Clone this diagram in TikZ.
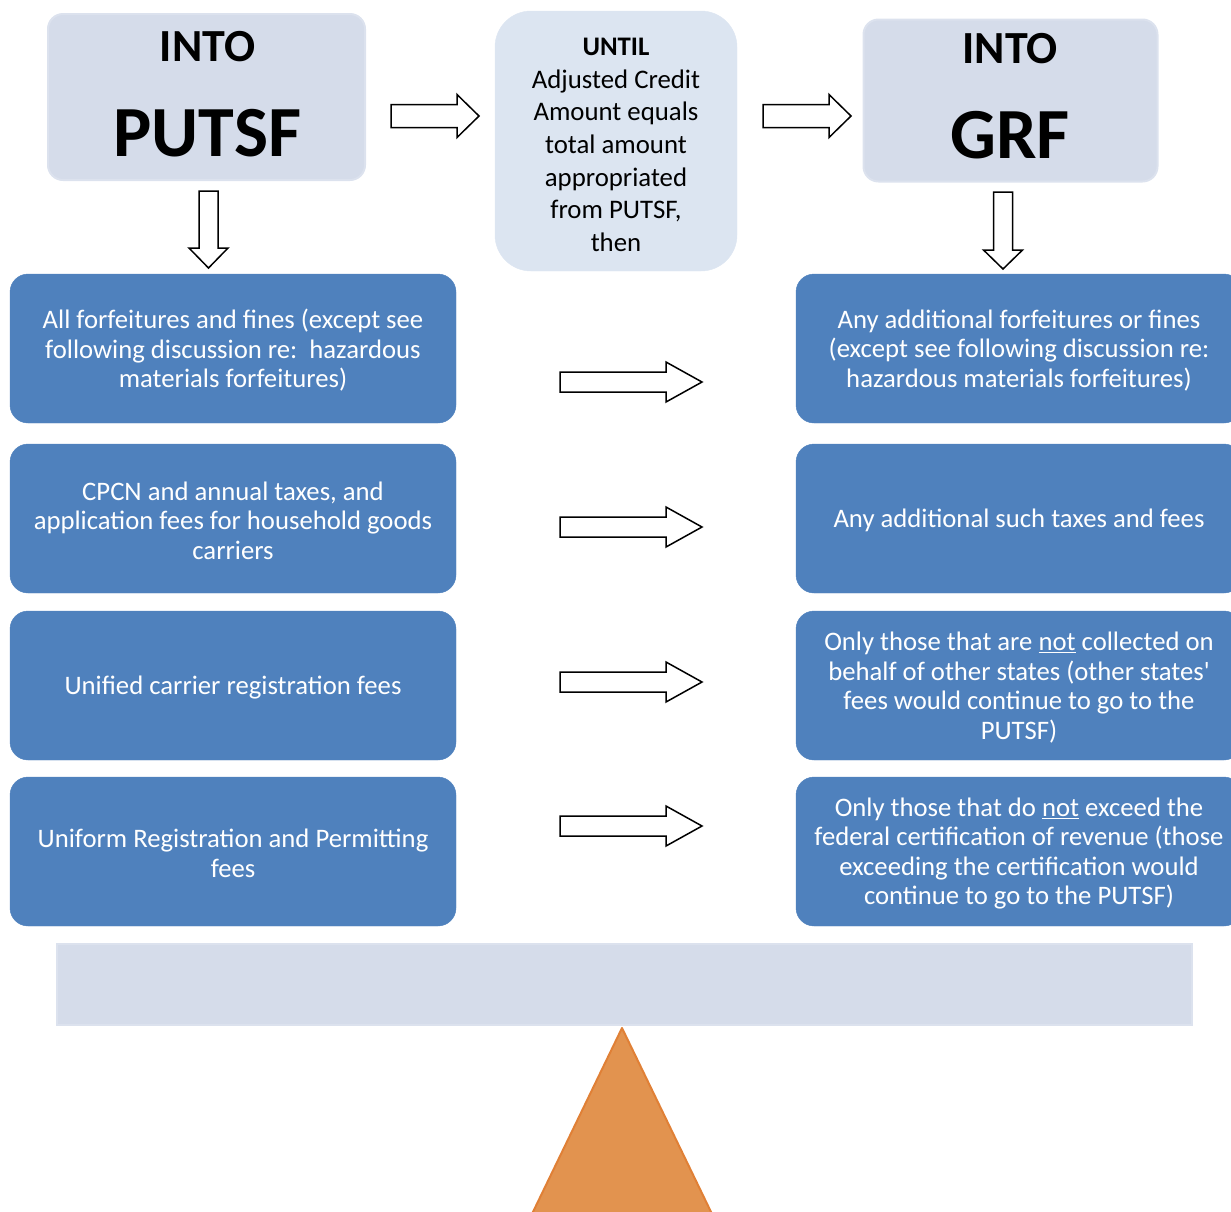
\documentclass[tikz,border=0pt]{standalone}
\usepackage{fontspec}
\setmainfont{Carlito}
\definecolor{paleblue}{HTML}{D5DCEA}
\definecolor{paleedge}{HTML}{DCE2EE}
\definecolor{untilfill}{HTML}{DCE5F1}
\definecolor{boxblue}{HTML}{4F81BD}
\definecolor{orangefill}{HTML}{E2934F}
\definecolor{orangeedge}{HTML}{E08036}
\newcommand\straightquote{{\addfontfeatures{Ligatures=TeXOff}'}}
\newcommand\hblockarrow[6]{% x0, yc, head base x, tip x, shaft half, head half
  \draw[barrow] (#1,#2-#5) -- (#3,#2-#5) -- (#3,#2-#6) -- (#4,#2) -- (#3,#2+#6) -- (#3,#2+#5) -- (#1,#2+#5) -- cycle;}
\newcommand\vblockarrow[6]{% xc, y0, head base y, tip y, shaft half, head half
  \draw[barrow] (#1-#5,#2) -- (#1-#5,#3) -- (#1-#6,#3) -- (#1,#4) -- (#1+#6,#3) -- (#1+#5,#3) -- (#1+#5,#2) -- cycle;}
\begin{document}
\begin{tikzpicture}[x=1pt,y=-1pt,
  palebox/.style={fill=paleblue, draw=paleedge, line width=2pt, rounded corners=15pt, inner sep=0pt},
  untilbox/.style={fill=untilfill, draw=untilfill, rounded corners=36pt, inner sep=0pt},
  bluebox/.style={fill=boxblue, draw=boxblue, rounded corners=18pt, minimum width=446pt, minimum height=149pt, inner sep=0pt},
  boxtext/.style={text=white, align=center, inner sep=0pt, yshift=-2pt, font=\fontsize{26.7}{29.5}\selectfont},
  intotext/.style={anchor=base, font=\fontsize{46}{50}\selectfont\bfseries},
  bigtext/.style={anchor=base, font=\fontsize{72}{80}\selectfont\bfseries},
  barrow/.style={draw=black, line width=1.5pt, fill=white, line join=miter},
]
\useasboundingbox (0,0) rectangle (1231,1211);
\clip (0,0) rectangle (1231,1211);

% top boxes
\node[palebox, minimum width=317pt, minimum height=166pt] (putsf) at (206.5,97) {};
\node[intotext] (into1) at (207.5,61) {INTO};
\node[bigtext] (putsftext) at (207.5,156) {PUTSF};

\node[untilbox, minimum width=242pt, minimum height=260pt] (until) at (616,141) {};
\node[align=center, inner sep=0pt, font=\fontsize{26.8}{32.6}\selectfont] (untiltext) at (616,145)
  {\textbf{UNTIL}\\Adjusted Credit\\Amount equals\\total amount\\appropriated\\from PUTSF,\\then};

\node[palebox, minimum width=294pt, minimum height=162pt] (grf) at (1010.5,100.5) {};
\node[intotext] (into2) at (1010,63) {INTO};
\node[bigtext] (grftext) at (1010,158) {GRF};

% top arrows
\hblockarrow{391}{116}{457}{479}{11.5}{21.5}
\hblockarrow{763}{116}{829}{851}{11.5}{21.5}
\vblockarrow{208.5}{191}{248}{268}{9.5}{19.5}
\vblockarrow{1003}{192}{250}{269}{9.5}{19.5}

% left column
\node[bluebox] (l1) at (233,348.5) {};
\node[boxtext] (l1t) at (l1.center) {All forfeitures and fines (except see\\following discussion re:\ \ hazardous\\materials forfeitures)};
\node[bluebox] (l2) at (233,518.5) {};
\node[boxtext] (l2t) at (l2.center) {CPCN and annual taxes, and\\application fees for household goods\\carriers};
\node[bluebox] (l3) at (233,685.5) {};
\node[boxtext] (l3t) at (l3.center) {Unified carrier registration fees};
\node[bluebox] (l4) at (233,851.5) {};
\node[boxtext] (l4t) at (l4.center) {Uniform Registration and Permitting\\fees};

% right column
\node[bluebox] (r1) at (1019,348.5) {};
\node[boxtext] (r1t) at (r1.center) {Any additional forfeitures or fines\\(except see following discussion re:\\hazardous materials forfeitures)};
\node[bluebox] (r2) at (1019,518.5) {};
\node[boxtext] (r2t) at (r2.center) {Any additional such taxes and fees};
\node[bluebox] (r3) at (1019,685.5) {};
\node[boxtext] (r3t) at (r3.center) {Only those that are \underline{not} collected on\\behalf of other states (other states\straightquote\\fees would continue to go to the\\PUTSF)};
\node[bluebox] (r4) at (1019,851.5) {};
\node[boxtext] (r4t) at (r4.center) {Only those that do \underline{not} exceed the\\federal certification of revenue (those\\exceeding the certification would\\continue to go to the PUTSF)};

% row arrows
\hblockarrow{560}{382}{666}{702}{10}{20}
\hblockarrow{560}{527}{666}{702}{10}{20}
\hblockarrow{560}{682}{666}{702}{10}{20}
\hblockarrow{560}{826}{666}{702}{10}{20}

% bottom bar and fulcrum
\node[fill=paleblue, draw=paleedge, line width=2pt, minimum width=1135pt, minimum height=81pt, inner sep=0pt] (bar) at (624.5,984.5) {};
\draw[fill=orangefill, draw=orangeedge, line width=2pt, line join=round] (622,1028) -- (712.5,1215) -- (531.5,1215) -- cycle;
\end{tikzpicture}
\end{document}
